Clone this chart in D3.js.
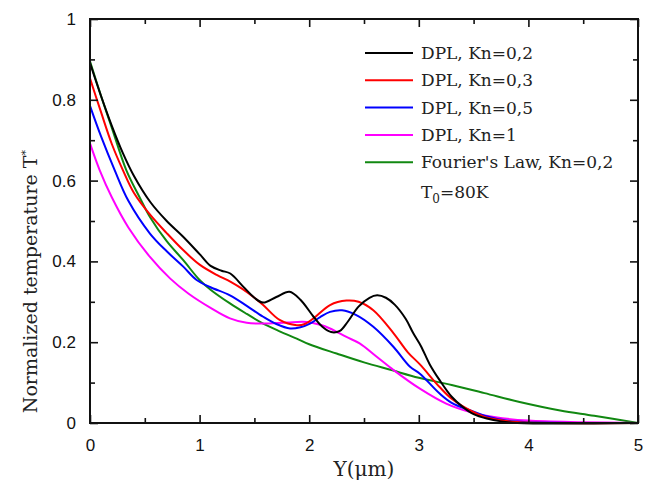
<!DOCTYPE html>
<html>
<head>
<meta charset="utf-8">
<script src="https://d3js.org/d3.v7.min.js"></script>
<style>
	body { margin: 0; background: #fff; }
	.tick text { font-family: "Liberation Sans", Arial, sans-serif; font-size: 17px; fill: #111; }
	.label { font-family: "DejaVu Serif", Georgia, serif; fill: #222; }
	.legend text { font-family: "DejaVu Serif", Georgia, serif; font-size: 17px; fill: #222; }
</style>
</head>
<body>
<script>
// ---- data: [Y (um), T*] ----
var seriesNames = ["DPL, Kn=0,2", "DPL, Kn=0,3", "DPL, Kn=0,5", "DPL, Kn=1", "Fourier's Law, Kn=0,2"];
var seriesColors = ["#000000", "#ff0000", "#0000ff", "#ff00ff", "#118811"];

var dplKn02 = [[0,0.891],[0.1,0.81],[0.2,0.735],[0.3,0.668],[0.4,0.612],[0.55,0.547],[0.7,0.50],[0.85,0.461],
	[1.0,0.418],[1.1,0.389],[1.2,0.377],[1.28,0.370],[1.4,0.337],[1.5,0.31],[1.58,0.298],[1.7,0.312],[1.82,0.325],
	[1.92,0.305],[2.04,0.263],[2.12,0.238],[2.2,0.225],[2.28,0.228],[2.35,0.250],[2.45,0.288],[2.55,0.310],
	[2.62,0.316],[2.7,0.310],[2.78,0.293],[2.88,0.258],[2.95,0.222],[3.02,0.190],[3.1,0.145],[3.19,0.106],
	[3.3,0.065],[3.4,0.04],[3.5,0.022],[3.62,0.011],[3.75,0.004],[3.9,0],[5,0]];
var dplKn03 = [[0,0.853],[0.1,0.77],[0.2,0.69],[0.3,0.626],[0.4,0.57],[0.55,0.515],[0.7,0.47],[0.85,0.428],
	[1.0,0.392],[1.16,0.366],[1.28,0.35],[1.4,0.33],[1.5,0.31],[1.58,0.292],[1.73,0.255],[1.886,0.242],
	[1.96,0.245],[2.04,0.259],[2.19,0.292],[2.34,0.303],[2.45,0.30],[2.585,0.279],[2.77,0.222],[2.9,0.175],
	[3.01,0.145],[3.19,0.089],[3.3,0.06],[3.47,0.031],[3.6,0.015],[3.8,0.005],[4.0,0.001],[5,0]];
var dplKn05 = [[0,0.785],[0.1,0.71],[0.225,0.626],[0.35,0.55],[0.547,0.469],[0.7,0.425],[0.851,0.387],
	[0.973,0.354],[1.1,0.336],[1.277,0.316],[1.43,0.29],[1.58,0.263],[1.7,0.245],[1.825,0.234],[1.92,0.237],
	[2.007,0.246],[2.1,0.262],[2.19,0.275],[2.3,0.279],[2.43,0.267],[2.585,0.238],[2.77,0.188],[2.92,0.139],
	[3.01,0.122],[3.19,0.073],[3.3,0.05],[3.47,0.031],[3.6,0.018],[3.8,0.006],[4.0,0.002],[5,0]];
var dplKn1 = [[0,0.692],[0.088,0.626],[0.2,0.558],[0.35,0.484],[0.547,0.411],[0.73,0.358],[0.9,0.32],[1.1,0.285],
	[1.277,0.259],[1.43,0.248],[1.58,0.246],[1.8,0.249],[1.977,0.250],[2.1,0.243],[2.19,0.234],[2.34,0.213],
	[2.46,0.197],[2.616,0.164],[2.77,0.131],[3.01,0.085],[3.25,0.048],[3.47,0.027],[3.7,0.014],[4.0,0.006],
	[4.5,0.002],[5,0]];
var fourierKn02 = [[0,0.895],[0.1,0.81],[0.2,0.73],[0.331,0.626],[0.45,0.56],[0.547,0.51],[0.7,0.45],
	[0.851,0.403],[1.0,0.354],[1.1,0.33],[1.277,0.296],[1.43,0.27],[1.58,0.246],[1.73,0.227],[1.886,0.209],
	[2.0,0.195],[2.25,0.172],[2.5,0.150],[2.75,0.131],[3.0,0.112],[3.3,0.094],[3.6,0.074],[3.92,0.052],
	[4.29,0.031],[4.6,0.018],[5,0]];
var allSeries = [dplKn02, dplKn03, dplKn05, dplKn1, fourierKn02];

var xTicks = [0, 1, 2, 3, 4, 5];
var xMinor = [0.5, 1.5, 2.5, 3.5, 4.5];
var yTicks = [0, 0.2, 0.4, 0.6, 0.8, 1];
var yMinor = [0.1, 0.3, 0.5, 0.7, 0.9];

var width = 647, height = 484;
var margin = { left: 90, right: 9, top: 19, bottom: 61 };
var iw = width - margin.left - margin.right;
var ih = height - margin.top - margin.bottom;

var svg = d3.select("body").append("svg")
	.attr("width", width)
	.attr("height", height);

var xScale = d3.scaleLinear().domain([0, 5]).range([0, iw]);
var yScale = d3.scaleLinear().domain([0, 1]).range([ih, 0]);

var g = svg.append("g").attr("transform", "translate(" + margin.left + "," + margin.top + ")");

// curves
var line = d3.line()
	.x(function (d) { return xScale(d[0]); })
	.y(function (d) { return yScale(Math.max(0, d[1])); })
	.curve(d3.curveCatmullRom.alpha(0.5));

// green underneath, black on top
var order = [4, 3, 2, 1, 0];
order.forEach(function (i) {
	g.append("path")
		.datum(allSeries[i])
		.attr("fill", "none")
		.attr("stroke", seriesColors[i])
		.attr("stroke-width", 2)
		.attr("d", line);
});

// axes: ticks point inward, labels only on left and bottom
function styleAxis(sel) {
	sel.select(".domain").remove();
	sel.selectAll(".tick line").attr("stroke", "#111").attr("stroke-width", 1.6);
}
g.append("g").attr("transform", "translate(0," + ih + ")")
	.call(d3.axisBottom(xScale).tickValues(xTicks).tickSizeInner(-8).tickSizeOuter(0).tickPadding(16).tickFormat(d3.format("d")))
	.call(styleAxis);
g.append("g").attr("transform", "translate(0," + ih + ")")
	.call(d3.axisBottom(xScale).tickValues(xMinor).tickSize(-5).tickFormat(""))
	.call(styleAxis);
g.append("g")
	.call(d3.axisTop(xScale).tickValues(xTicks).tickSize(-8).tickFormat(""))
	.call(styleAxis);
g.append("g")
	.call(d3.axisTop(xScale).tickValues(xMinor).tickSize(-5).tickFormat(""))
	.call(styleAxis);

g.append("g")
	.call(d3.axisLeft(yScale).tickValues(yTicks).tickSizeInner(-8).tickSizeOuter(0).tickPadding(14).tickFormat(d3.format("")))
	.call(styleAxis);
g.append("g")
	.call(d3.axisLeft(yScale).tickValues(yMinor).tickSize(-5).tickFormat(""))
	.call(styleAxis);
g.append("g").attr("transform", "translate(" + iw + ",0)")
	.call(d3.axisRight(yScale).tickValues(yTicks).tickSize(-8).tickFormat(""))
	.call(styleAxis);
g.append("g").attr("transform", "translate(" + iw + ",0)")
	.call(d3.axisRight(yScale).tickValues(yMinor).tickSize(-5).tickFormat(""))
	.call(styleAxis);

// frame
g.append("rect")
	.attr("width", iw).attr("height", ih)
	.attr("fill", "none")
	.attr("stroke", "#111")
	.attr("stroke-width", 2);

// axis titles
svg.append("text").attr("class", "label")
	.attr("x", margin.left + xScale(2.5)).attr("y", 476)
	.attr("text-anchor", "middle")
	.style("font-size", "20px")
	.text("Y(μm)");

var yl = svg.append("text").attr("class", "label")
	.attr("transform", "translate(37," + (margin.top + yScale(0.35)) + ") rotate(-90)")
	.attr("text-anchor", "middle")
	.style("font-size", "19px");
yl.append("tspan").text("Normalized temperature T");
yl.append("tspan").attr("dy", -8).style("font-size", "11px").text("*");

// legend
var legend = svg.append("g").attr("class", "legend").attr("transform", "translate(365,53)");
seriesNames.forEach(function (name, i) {
	var row = legend.append("g").attr("transform", "translate(0," + (i * 27.3) + ")");
	row.append("line").attr("x1", 0).attr("x2", 48).attr("y1", 0).attr("y2", 0)
		.attr("stroke", seriesColors[i]).attr("stroke-width", 2);
	row.append("text").attr("x", 56).attr("y", 6).text(name);
});
var tLabel = legend.append("text").attr("x", 56).attr("y", 5 * 27.3 + 8);
tLabel.append("tspan").text("T");
tLabel.append("tspan").attr("dy", 5).style("font-size", "12px").text("0");
tLabel.append("tspan").attr("dy", -5).text("=80K");
</script>
</body>
</html>
